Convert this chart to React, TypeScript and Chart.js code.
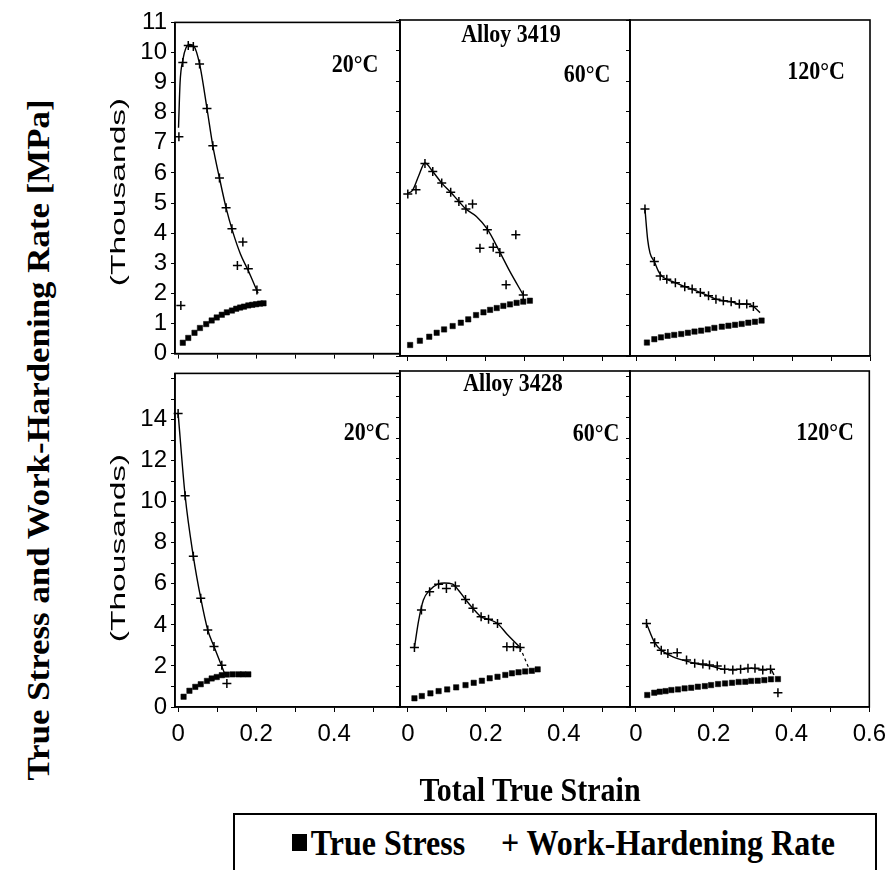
import React, { useEffect, useRef } from "react";
import { Chart, registerables } from "chart.js";

Chart.register(...registerables);

type P = [number, number];

// ---- Alloy 3419, 20°C  (strain, thousands MPa)
const a3419_20_stress: P[] = [[0.012,0.36],[0.026,0.52],[0.042,0.69],[0.056,0.85],[0.072,0.98],[0.086,1.10],[0.099,1.20],[0.112,1.29],[0.125,1.37],[0.138,1.43],[0.149,1.49],[0.159,1.53],[0.169,1.56],[0.180,1.60],[0.190,1.62],[0.200,1.64],[0.210,1.66],[0.219,1.67]];
const a3419_20_whr: P[] = [[0.002,7.2],[0.007,1.6],[0.012,9.67],[0.026,10.23],[0.039,10.2],[0.055,9.62],[0.074,8.14],[0.089,6.9],[0.106,5.83],[0.123,4.84],[0.138,4.15],[0.152,2.93],[0.166,3.71],[0.180,2.82],[0.202,2.11]];
const a3419_20_fit: P[] = [[0.001,7.5],[0.005,9.0],[0.012,9.75],[0.02,10.15],[0.03,10.27],[0.04,10.22],[0.055,9.62],[0.074,8.14],[0.089,6.9],[0.106,5.83],[0.123,4.84],[0.14,4.05],[0.16,3.3],[0.18,2.75],[0.205,2.0]];

// ---- Alloy 3419, 60°C
const a3419_60_stress: P[] = [[0.006,0.36],[0.031,0.50],[0.055,0.63],[0.074,0.76],[0.093,0.87],[0.115,0.98],[0.136,1.09],[0.155,1.20],[0.175,1.34],[0.194,1.43],[0.211,1.51],[0.228,1.57],[0.245,1.64],[0.262,1.69],[0.279,1.74],[0.296,1.78],[0.313,1.81]];
const a3419_60_whr: P[] = [[0.0,5.30],[0.021,5.44],[0.044,6.30],[0.064,6.04],[0.087,5.66],[0.110,5.36],[0.131,5.06],[0.149,4.81],[0.166,4.98],[0.185,3.53],[0.204,4.13],[0.219,3.56],[0.236,3.39],[0.252,2.33],[0.277,3.97],[0.296,2.0]];
const a3419_60_fit: P[] = [[0.0,5.33],[0.012,5.42],[0.028,5.9],[0.044,6.32],[0.064,6.04],[0.087,5.66],[0.110,5.36],[0.131,5.06],[0.149,4.81],[0.176,4.57],[0.204,4.15],[0.236,3.4],[0.262,2.76],[0.296,2.0]];

// ---- Alloy 3419, 120°C
const a3419_120_stress: P[] = [[0.028,0.44],[0.047,0.55],[0.064,0.61],[0.081,0.66],[0.098,0.69],[0.116,0.72],[0.133,0.76],[0.150,0.80],[0.167,0.83],[0.184,0.87],[0.201,0.92],[0.220,0.96],[0.237,0.99],[0.254,1.02],[0.271,1.05],[0.288,1.09],[0.305,1.12],[0.322,1.16]];
const a3419_120_whr: P[] = [[0.023,4.81],[0.047,3.09],[0.062,2.62],[0.079,2.51],[0.101,2.40],[0.125,2.27],[0.144,2.19],[0.165,2.08],[0.186,1.97],[0.205,1.86],[0.224,1.81],[0.244,1.78],[0.265,1.70],[0.284,1.70],[0.301,1.62]];
const a3419_120_fit: P[] = [[0.023,4.81],[0.030,3.80],[0.036,3.37],[0.047,3.09],[0.058,2.76],[0.066,2.62],[0.079,2.51],[0.101,2.40],[0.125,2.27],[0.144,2.19],[0.165,2.08],[0.186,1.97],[0.205,1.86],[0.224,1.81],[0.244,1.78],[0.265,1.70],[0.284,1.70],[0.301,1.62],[0.318,1.42]];

// ---- Alloy 3428, 20°C
const a3428_20_stress: P[] = [[0.014,0.50],[0.029,0.79],[0.044,0.98],[0.058,1.11],[0.074,1.27],[0.086,1.39],[0.099,1.46],[0.112,1.55],[0.125,1.58],[0.140,1.59],[0.155,1.59],[0.167,1.59],[0.180,1.59]];
const a3428_20_whr: P[] = [[0.0,14.3],[0.018,10.29],[0.039,7.34],[0.058,5.30],[0.076,3.75],[0.092,2.95],[0.112,2.03],[0.125,1.14]];
const a3428_20_fit: P[] = [[0.0,14.3],[0.018,10.29],[0.039,7.34],[0.058,5.30],[0.076,3.75],[0.092,2.95],[0.121,1.55]];

// ---- Alloy 3428, 60°C
const a3428_60_stress: P[] = [[0.017,0.42],[0.036,0.53],[0.058,0.66],[0.079,0.77],[0.101,0.85],[0.124,0.95],[0.148,1.06],[0.169,1.17],[0.190,1.27],[0.210,1.39],[0.230,1.46],[0.250,1.55],[0.267,1.63],[0.284,1.68],[0.301,1.72],[0.318,1.75],[0.333,1.82]];
const a3428_60_whr: P[] = [[0.017,2.88],[0.035,4.69],[0.056,5.57],[0.079,5.94],[0.099,5.73],[0.122,5.85],[0.148,5.20],[0.167,4.77],[0.188,4.36],[0.207,4.24],[0.230,4.04],[0.254,2.91],[0.271,2.91],[0.288,2.88]];
const a3428_60_fit: P[] = [[0.017,2.88],[0.028,4.2],[0.040,5.17],[0.056,5.65],[0.077,5.94],[0.094,6.0],[0.115,5.94],[0.130,5.65],[0.148,5.20],[0.167,4.77],[0.188,4.36],[0.207,4.24],[0.230,4.04],[0.254,3.53],[0.288,2.88]];
const a3428_60_dash: P[] = [[0.288,2.88],[0.314,1.71]];

// ---- Alloy 3428, 120°C
const a3428_120_stress: P[] = [[0.029,0.58],[0.047,0.69],[0.061,0.74],[0.076,0.77],[0.091,0.82],[0.108,0.85],[0.125,0.90],[0.142,0.93],[0.159,0.98],[0.177,1.01],[0.193,1.06],[0.211,1.11],[0.229,1.14],[0.247,1.17],[0.264,1.21],[0.281,1.22],[0.296,1.26],[0.313,1.27],[0.330,1.30],[0.347,1.34],[0.365,1.35]];
const a3428_120_whr: P[] = [[0.027,4.04],[0.048,3.11],[0.065,2.75],[0.082,2.59],[0.106,2.62],[0.130,2.27],[0.151,2.11],[0.172,2.08],[0.189,2.03],[0.209,1.98],[0.228,1.82],[0.249,1.79],[0.269,1.82],[0.288,1.87],[0.306,1.87],[0.326,1.79],[0.346,1.82],[0.365,0.69]];
const a3428_120_fit: P[] = [[0.027,4.04],[0.048,3.11],[0.065,2.75],[0.091,2.46],[0.125,2.24],[0.159,2.08],[0.193,1.98],[0.228,1.82],[0.262,1.82],[0.296,1.87],[0.330,1.82],[0.346,1.82],[0.355,1.55]];

// ---- axes
const xTickLabels = ["0", "0.2", "0.4", "0.6"];
const topYTicks = [0, 1, 2, 3, 4, 5, 6, 7, 8, 9, 10, 11];
const bottomYTicks = [0, 2, 4, 6, 8, 10, 12, 14];

const SANS = '"Liberation Sans", Arial, Helvetica, sans-serif';
const SERIF = '"Liberation Serif", "Times New Roman", Times, serif';

// layout (page pixels)
const colLeft = [175, 400, 630];
const colRight = [400, 630, 870];
const colXMin = [-0.008, -0.02, 0.6 - 240 / 390];
const colXMax = [-0.008 + 225 / 390, -0.02 + 230 / 390, 0.6];
const colXLabelMax = [0.4, 0.4, 0.6];
const rowTop = [20, 371];
const rowBottom = [356, 707];
const rowYMax = [11, 16.25];

const boxPlugin = {
  id: "panelBox",
  afterDraw(chart: any) {
    const { ctx, chartArea } = chart;
    const { left, top, right, bottom } = chartArea;
    ctx.save();
    ctx.strokeStyle = "#000";
    ctx.lineWidth = 1.6;
    ctx.strokeRect(left, top, right - left, bottom - top);
    ctx.restore();
  },
};

type PanelDef = { row: number; col: number; stress: P[]; whr: P[]; fit: P[]; dash?: P[] };

const panels: PanelDef[] = [
  { row: 0, col: 0, stress: a3419_20_stress, whr: a3419_20_whr, fit: a3419_20_fit },
  { row: 0, col: 1, stress: a3419_60_stress, whr: a3419_60_whr, fit: a3419_60_fit },
  { row: 0, col: 2, stress: a3419_120_stress, whr: a3419_120_whr, fit: a3419_120_fit },
  { row: 1, col: 0, stress: a3428_20_stress, whr: a3428_20_whr, fit: a3428_20_fit },
  { row: 1, col: 1, stress: a3428_60_stress, whr: a3428_60_whr, fit: a3428_60_fit, dash: a3428_60_dash },
  { row: 1, col: 2, stress: a3428_120_stress, whr: a3428_120_whr, fit: a3428_120_fit },
];

const toXY = (a: P[]) => a.map(([x, y]) => ({ x, y }));

function Panel({ def }: { def: PanelDef }) {
  const ref = useRef<HTMLCanvasElement | null>(null);
  const { row, col } = def;
  const padL = col === 0 ? 70 : 16;
  const padR = 24;
  const padT = 16;
  const padB = row === 1 ? 55 : 16;
  const L = colLeft[col], R = colRight[col], T = rowTop[row], B = rowBottom[row];
  const w = R - L + padL + padR;
  const h = B - T + padT + padB;

  useEffect(() => {
    const datasets: any[] = [
      { data: toXY(def.fit), showLine: true, pointRadius: 0, borderColor: "#000", borderWidth: 1.4, cubicInterpolationMode: "monotone", clip: false },
    ];
    if (def.dash) {
      datasets.push({ data: toXY(def.dash), showLine: true, pointRadius: 0, borderColor: "#000", borderWidth: 1.2, borderDash: [3, 3], clip: false });
    }
    datasets.push({ data: toXY(def.whr), showLine: false, pointStyle: "cross", pointRadius: 4.5, borderColor: "#000", borderWidth: 1.5, clip: false });
    datasets.push({ data: toXY(def.stress), showLine: false, pointStyle: "rect", pointRadius: 3.8, backgroundColor: "#000", borderColor: "#000", borderWidth: 0.5, clip: false });

    const yLabels = row === 0 ? topYTicks : bottomYTicks;
    const chart = new Chart(ref.current as HTMLCanvasElement, {
      type: "scatter",
      data: { datasets },
      options: {
        responsive: false,
        animation: false,
        events: [],
        layout: { padding: { left: 0, right: padR, top: padT, bottom: 0 } },
        plugins: { legend: { display: false }, tooltip: { enabled: false } },
        scales: {
          x: {
            type: "linear",
            position: "bottom",
            min: colXMin[col],
            max: colXMax[col],
            afterFit: (s: any) => { s.height = padB; },
            grid: { drawOnChartArea: false, drawTicks: true, tickLength: 5, color: "#000", lineWidth: 1 },
            border: { display: true, color: "#000", width: 1.6 },
            ticks: {
              display: row === 1,
              stepSize: 0.1,
              includeBounds: false,
              autoSkip: false,
              maxRotation: 0,
              padding: 8,
              color: "#000",
              font: { family: SANS, size: 24 },
              callback: (v: any) => {
                const k = Math.round(Number(v) * 10);
                if (k < 0 || k % 2 !== 0 || k / 10 > colXLabelMax[col] + 1e-9) return "";
                return xTickLabels[k / 2];
              },
            },
          },
          y: {
            type: "linear",
            position: "left",
            min: 0,
            max: rowYMax[row],
            afterFit: (s: any) => { s.width = padL; },
            grid: { drawOnChartArea: false, drawTicks: true, tickLength: 4, color: "#000", lineWidth: 1 },
            border: { display: true, color: "#000", width: 1.6 },
            ticks: {
              display: col === 0,
              stepSize: 1,
              includeBounds: false,
              autoSkip: false,
              padding: 4,
              color: "#000",
              font: { family: SANS, size: 24 },
              callback: (v: any) => {
                const k = Math.round(Number(v));
                return yLabels.indexOf(k) >= 0 ? String(k) : "";
              },
            },
          },
        },
      } as any,
      plugins: [boxPlugin],
    });
    return () => chart.destroy();
  }, []);

  return (
    <canvas
      ref={ref}
      width={w}
      height={h}
      style={{ position: "absolute", left: L - padL, top: T - padT, width: w, height: h }}
    />
  );
}

function Txt({ x, y, text, font, rotate = 0, sx = 1, sy = 1 }: { x: number; y: number; text: string; font: string; rotate?: number; sx?: number; sy?: number }) {
  return (
    <div
      style={{
        position: "absolute",
        left: x,
        top: y,
        font,
        color: "#000",
        whiteSpace: "nowrap",
        lineHeight: 1,
        transform: `translate(-50%, -50%) rotate(${rotate}deg) scale(${sx}, ${sy})`,
      }}
    >
      {text}
    </div>
  );
}

const panelLabels: { x: number; y: number; t: string }[] = [
  { x: 355, y: 64, t: "20°C" },
  { x: 511, y: 34, t: "Alloy 3419" },
  { x: 587, y: 74, t: "60°C" },
  { x: 816, y: 71, t: "120°C" },
  { x: 367, y: 432, t: "20°C" },
  { x: 513, y: 383, t: "Alloy 3428" },
  { x: 596, y: 433, t: "60°C" },
  { x: 825, y: 432, t: "120°C" },
];

export default function App() {
  const labelFont = `bold 22px ${SERIF}`;
  return (
    <div style={{ position: "absolute", left: 0, top: 0, width: 892, height: 870, overflow: "hidden", background: "#fff" }}>
      {panels.map((p, i) => (
        <Panel key={i} def={p} />
      ))}
      {panelLabels.map((l, i) => (
        <Txt key={i} x={l.x} y={l.y} text={l.t} font={labelFont} sy={1.15} />
      ))}
      <Txt x={38} y={440} text="True Stress and Work-Hardening Rate [MPa]" font={`bold 32px ${SERIF}`} rotate={-90} sx={1.09} />
      <Txt x={117} y={192} text="(Thousands)" font={`21px ${SANS}`} rotate={-90} sx={1.6} />
      <Txt x={117} y={548} text="(Thousands)" font={`21px ${SANS}`} rotate={-90} sx={1.6} />
      <Txt x={530} y={790} text="Total True Strain" font={`bold 30px ${SERIF}`} sy={1.1} />
      <div style={{ position: "absolute", left: 233, top: 813, width: 640, height: 80, border: "2px solid #000" }} />
      <div style={{ position: "absolute", left: 292, top: 834, width: 15, height: 17, background: "#000" }} />
      <Txt x={388} y={843} text="True Stress" font={`bold 32px ${SERIF}`} sy={1.12} />
      <Txt x={668} y={843} text="+ Work-Hardening Rate" font={`bold 32px ${SERIF}`} sy={1.12} />
    </div>
  );
}
